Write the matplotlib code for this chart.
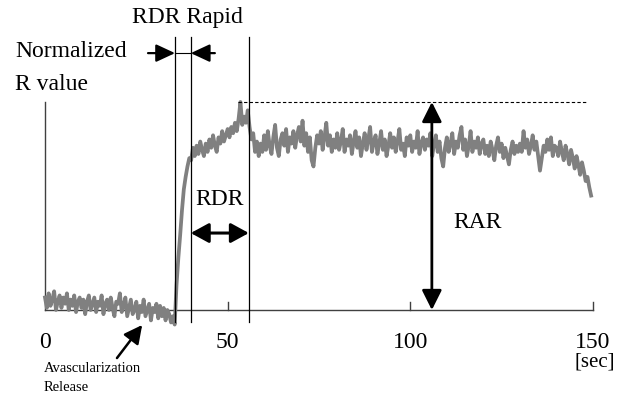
import matplotlib.pyplot as plt
import numpy as np

plt.rcParams['font.family'] = ['Liberation Serif', 'DejaVu Serif']

r_value = [
    6, 1, 8, 2, 5, 9, 0, 4, 7, 1, 6, 3, 8, 0, 5, 2, 7, -1, 4, 6,
    1, 5, -2, 4, 7, 0, 3, 6, -1, 4, 2, 7, -2, 3, 5, 0, 6, 1, -3, 4,
    3, 8, -1, 2, 6, -3, 1, 5, -2, 0, 4, -4, 2, -1, 5, -3, 0, 3, -5, 1,
    -1, 3, -4, 2, -3, 1, -5, 0, -2, -6, -3, -7, 12, 25, 36, 48, 58, 64, 69, 73,
    72, 78, 74, 79, 75, 81, 77, 74, 80, 76, 82, 78, 84, 79, 76, 83, 80, 86, 81, 84,
    87, 83, 88, 85, 90, 86, 92, 100, 89, 93, 90, 96, 88, 82, 85, 76, 81, 74, 80, 76,
    84, 77, 86, 79, 75, 83, 89, 78, 74, 82, 85, 79, 87, 76, 83, 80, 86, 78, 84, 88,
    81, 91, 79, 85, 76, 83, 72, 69, 78, 84, 80, 86, 77, 83, 90, 79, 84, 76, 82, 78,
    85, 77, 81, 87, 76, 82, 79, 84, 75, 81, 86, 78, 83, 74, 80, 85, 77, 82, 88, 76,
    81, 84, 75, 80, 86, 77, 82, 74, 79, 85, 78, 83, 76, 81, 87, 77, 80, 74, 83, 79,
    84, 76, 81, 78, 86, 75, 80, 83, 77, 82, 79, 85, 74, 80, 84, 76, 81, 73, 69, 78,
    83, 76, 80, 85, 75, 81, 78, 84, 88, 77, 82, 74, 79, 86, 76, 81, 78, 83, 75, 80,
    82, 75, 79, 74, 81, 77, 72, 79, 83, 76, 80, 73, 78, 74, 70, 77, 81, 75, 79, 76,
    80, 76, 86, 78, 82, 75, 79, 84, 77, 81, 74, 67, 73, 79, 76, 82, 77, 83, 74, 79,
    78, 74, 81, 76, 72, 79, 75, 70, 77, 73, 68, 74, 70, 65, 71, 67, 62, 64, 59, 55,
]
time_sec = np.arange(len(r_value)) * 0.5

x_ticks = [0, 50, 100, 150]
release_t = 35.6      # avascularization release
rapid_end_t = 39.9    # end of rapid RDR
peak_t = 55.8         # end of RDR
peak_value = 100
rar_t = 105.9

fig = plt.figure(figsize=(6.32, 3.99), dpi=100)
ax = fig.add_axes([0, 0, 1, 1])
ax.set_xlim(-12.32, 160.69)
ax.set_ylim(-42.79, 149.04)
ax.axis('off')

# axes drawn by hand (only part of the frame is shown)
ax.plot([0, 0], [0, peak_value], color='#404040', lw=1)
ax.plot([0, 150], [0, 0], color='#404040', lw=1)
for t in x_ticks:
    if t > 0:
        ax.plot([t, t], [0, 4], color='#404040', lw=1)
    ax.text(t, -15.4, str(t), ha='center', va='center', fontsize=17)
ax.text(150.5, -24.8, '[sec]', ha='center', va='center', fontsize=15)

# signal
ax.plot(time_sec, r_value, color='#808080', lw=2.7)

# event lines
for t in [release_t, rapid_end_t, peak_t]:
    ax.plot([t, t], [-5.8, 131.3], color='black', lw=0.9)

# peak level
ax.plot([52.8, 148.6], [peak_value, peak_value], color='black', lw=0.8,
        linestyle=(0, (3, 2)))

arrow = dict(color='black', shrinkA=0, shrinkB=0, mutation_scale=20)

# RAR
ax.annotate('', xy=(rar_t, peak_value), xytext=(rar_t, 0),
            arrowprops=dict(arrowstyle='<|-|>,head_length=0.6,head_width=0.3',
                            lw=2, **arrow))
ax.text(118.3, 42.3, 'RAR', ha='center', va='center', fontsize=17)

# RDR
ax.annotate('', xy=(peak_t, 37), xytext=(rapid_end_t, 37),
            arrowprops=dict(arrowstyle='<|-|>,head_length=0.55,head_width=0.3',
                            lw=2.2, **arrow))
ax.text(47.8, 52.9, 'RDR', ha='center', va='center', fontsize=17)

# RDR Rapid
ax.plot([release_t, rapid_end_t], [123.5, 123.5], color='black', lw=0.8)
ax.annotate('', xy=(release_t, 123.5), xytext=(28.2, 123.5),
            arrowprops=dict(arrowstyle='-|>,head_length=0.58,head_width=0.27',
                            lw=1.6, **arrow))
ax.annotate('', xy=(rapid_end_t, 123.5), xytext=(46.5, 123.5),
            arrowprops=dict(arrowstyle='-|>,head_length=0.58,head_width=0.27',
                            lw=1.6, **arrow))
ax.text(38.9, 140.4, 'RDR Rapid', ha='center', va='center', fontsize=17)

ax.text(-8.2, 124.5, 'Normalized', ha='left', va='center', fontsize=17)
ax.text(-8.2, 108.5, 'R value', ha='left', va='center', fontsize=17)

# avascularization release
ax.annotate('', xy=(26.6, -7.2), xytext=(19.7, -23.1),
            arrowprops=dict(arrowstyle='-|>,head_length=0.55,head_width=0.28',
                            lw=1.8, **arrow))
ax.text(-0.3, -27.9, 'Avascularization', ha='left', va='center', fontsize=10.5)
ax.text(-0.3, -37.4, 'Release', ha='left', va='center', fontsize=10.5)

fig.savefig('out.png', dpi=100)
